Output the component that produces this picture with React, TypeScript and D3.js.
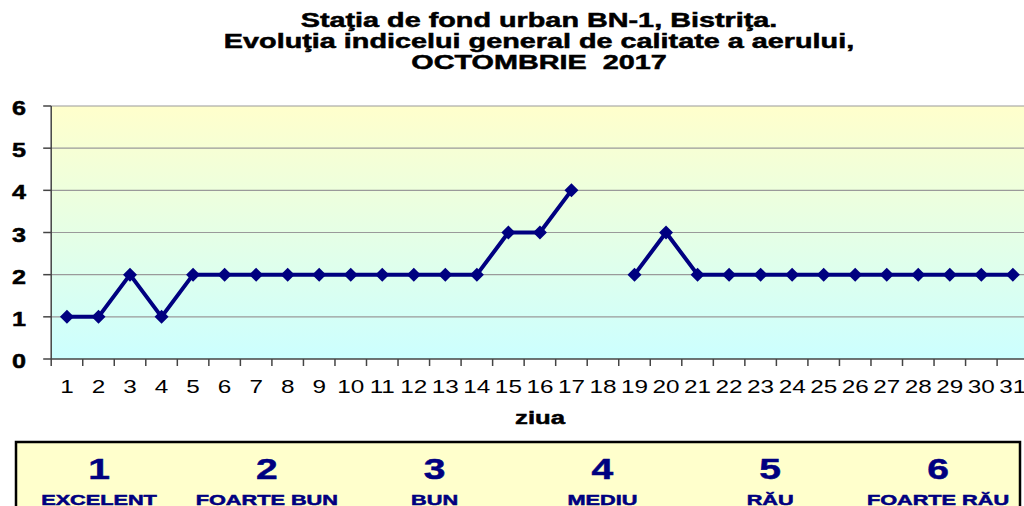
import React, { useEffect } from 'react';
import * as d3 from 'd3';

// ziua lunii si indicele general (18 lipsa)
const days = d3.range(1, 32).map(String);
const indexValues: (number | null)[] = [
  1, 1, 2, 1, 2, 2, 2, 2, 2, 2, 2, 2, 2, 2, 3, 3, 4, null,
  2, 3, 2, 2, 2, 2, 2, 2, 2, 2, 2, 2, 2,
];
const yTicks = [0, 1, 2, 3, 4, 5, 6];
const titleLines = [
  'Staţia de fond urban BN-1, Bistriţa.',
  'Evoluţia indicelui general de calitate a aerului,',
  'OCTOMBRIE  2017',
];
const legendNumbers = ['1', '2', '3', '4', '5', '6'];
const legendLabels = ['EXCELENT', 'FOARTE BUN', 'BUN', 'MEDIU', 'RĂU', 'FOARTE RĂU'];

const W = 1024;
const H = 506;
const FONT = '"Liberation Sans", Arial, sans-serif';
const NAVY = '#000080';

const left = 51.2;
const bandW = 31.53;
const top = 106;
const bottom = 359;

// textul din original e latit pe orizontala -> scale(sx,1)
const T = ({ x, y, anchor = 'middle', size, sx = 1.4, bold = false, fill = '#000', children }: any) => (
  <text
    transform={`translate(${x},${y}) scale(${sx},1)`}
    textAnchor={anchor}
    fontFamily={FONT}
    fontSize={size}
    fontWeight={bold ? 'bold' : 'normal'}
    fill={fill}
    stroke={bold ? fill : 'none'}
    strokeWidth={bold ? 0.5 : 0}
    style={{ whiteSpace: 'pre' }}
  >
    {children}
  </text>
);

export default function App() {
  useEffect(() => {
    document.body.style.margin = '0';
  }, []);

  const x = d3.scaleBand<string>().domain(days).range([left, left + bandW * days.length]);
  const y = d3.scaleLinear().domain([0, 6]).range([bottom, top]);
  const cx = (d: string) => (x(d) as number) + x.bandwidth() / 2;

  const pts = days.map((d, i) => ({ d, v: indexValues[i] }));
  const line = d3
    .line<{ d: string; v: number | null }>()
    .defined((p) => p.v !== null)
    .x((p) => cx(p.d))
    .y((p) => y(p.v as number));

  const plotRight = left + bandW * days.length;
  const legendX = d3.scalePoint<string>().domain(legendNumbers).range([99, 938]);

  return (
    <svg width={W} height={H} style={{ display: 'block' }}>
      <defs>
        <linearGradient id="bg" x1="0" y1="0" x2="0" y2="1">
          <stop offset="0%" stopColor="#FFFFCC" />
          <stop offset="100%" stopColor="#CCFFFF" />
        </linearGradient>
      </defs>
      <rect width={W} height={H} fill="#fff" />

      {/* titlu */}
      {titleLines.map((t, i) => (
        <T key={i} x={539} y={27 + i * 21} size={20} sx={1.44} bold>
          {t}
        </T>
      ))}

      {/* zona graficului */}
      <rect x={left} y={top} width={plotRight - left} height={bottom - top} fill="url(#bg)" />
      {yTicks.slice(1).map((t) => (
        <line key={t} x1={left} x2={plotRight} y1={y(t)} y2={y(t)} stroke="#9a9a9a" strokeWidth={1.2} />
      ))}

      {/* axa y */}
      <line x1={left} x2={left} y1={top} y2={bottom} stroke="#444" strokeWidth={1.5} />
      {yTicks.map((t) => (
        <g key={t}>
          <line x1={left - 8} x2={left} y1={y(t)} y2={y(t)} stroke="#444" strokeWidth={1.5} />
          <T x={26} y={y(t) + 9} anchor="end" size={21} sx={1.2} bold>
            {t}
          </T>
        </g>
      ))}

      {/* axa x */}
      <line x1={left} x2={plotRight} y1={bottom} y2={bottom} stroke="#444" strokeWidth={1.5} />
      {days.map((d) => (
        <g key={d}>
          <line x1={x(d) as number} x2={x(d) as number} y1={bottom} y2={bottom + 7} stroke="#444" strokeWidth={1.5} />
          <T x={cx(d)} y={393} size={18} sx={1.35}>
            {d}
          </T>
        </g>
      ))}
      <T x={540} y={424} size={19} sx={1.35} bold>
        ziua
      </T>

      {/* seria */}
      <path d={line(pts) || ''} fill="none" stroke={NAVY} strokeWidth={4} strokeLinejoin="round" />
      {pts
        .filter((p) => p.v !== null)
        .map((p) => {
          const px = cx(p.d);
          const py = y(p.v as number);
          const r = 7;
          return (
            <path
              key={p.d}
              d={`M${px},${py - r}L${px + r},${py}L${px},${py + r}L${px - r},${py}Z`}
              fill={NAVY}
            />
          );
        })}

      {/* legenda */}
      <rect x={16} y={442} width={1004} height={80} fill="#FFFFCC" stroke="#000" strokeWidth={2.5} />
      {legendNumbers.map((n, i) => (
        <g key={n}>
          <T x={legendX(n)} y={479} size={30} sx={1.3} bold fill={NAVY}>
            {n}
          </T>
          <T x={legendX(n)} y={505} size={14} sx={1.55} bold fill={NAVY}>
            {legendLabels[i]}
          </T>
        </g>
      ))}
    </svg>
  );
}
